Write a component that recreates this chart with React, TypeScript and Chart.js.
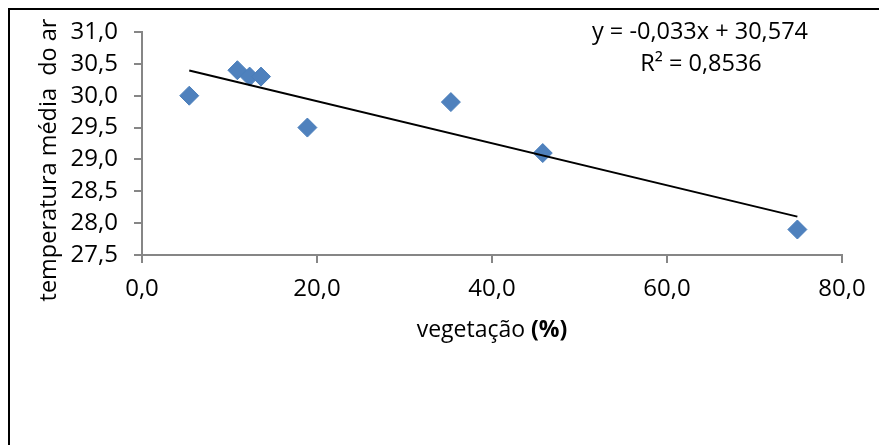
import React, { useEffect, useRef } from "react";
import { Chart, registerables } from "chart.js";

Chart.register(...registerables);

const vegetationPct = [5.4, 10.9, 12.3, 13.6, 18.9, 35.3, 45.8, 74.9];
const airTemp = [30.0, 30.4, 30.3, 30.3, 29.5, 29.9, 29.1, 27.9];
const trendSlope = -0.033;
const trendIntercept = 30.574;
const equationText = "y = -0,033x + 30,574";
const r2Text = "R² = 0,8536";
const yTitle = "temperatura média  do ar";
const xTitleMain = "vegetação ";
const xTitleBold = "(%)";

const FONT = "'Open Sans', 'Liberation Sans', sans-serif";
const fmt = (v: number) => v.toFixed(1).replace(".", ",");

export default function App() {
  const ref = useRef<HTMLCanvasElement | null>(null);

  useEffect(() => {
    if (!ref.current) return;
    const xMin = Math.min(...vegetationPct);
    const xMax = Math.max(...vegetationPct);
    const trend = [xMin, xMax].map((x) => ({ x, y: trendSlope * x + trendIntercept }));
    const points = vegetationPct.map((x, i) => ({ x, y: airTemp[i] }));

    const textPlugin = {
      id: "texts",
      afterDraw(chart: any) {
        const ctx = chart.ctx as CanvasRenderingContext2D;
        const area = chart.chartArea;
        ctx.save();
        ctx.fillStyle = "#000";
        // equation
        ctx.font = `23.5px ${FONT}`;
        ctx.textAlign = "center";
        ctx.textBaseline = "alphabetic";
        ctx.fillText(equationText, 690, 29);
        ctx.fillText(r2Text, 691, 61);
        // x title (mixed weight)
        ctx.font = `23px ${FONT}`;
        const w1 = ctx.measureText(xTitleMain).width;
        ctx.font = `bold 23px ${FONT}`;
        const w2 = ctx.measureText(xTitleBold).width;
        const cx = (area.left + area.right) / 2;
        const startX = cx - (w1 + w2) / 2;
        ctx.textAlign = "left";
        ctx.font = `23px ${FONT}`;
        ctx.fillText(xTitleMain, startX, 327);
        ctx.font = `bold 23px ${FONT}`;
        ctx.fillText(xTitleBold, startX + w1, 327);
        // y title
        ctx.translate(46, 150);
        ctx.rotate(-Math.PI / 2);
        ctx.font = `23.5px ${FONT}`;
        ctx.textAlign = "center";
        ctx.textBaseline = "alphabetic";
        ctx.fillText(yTitle, 0, 0);
        ctx.restore();
      },
    };

    const chart = new Chart(ref.current, {
      type: "scatter",
      data: {
        datasets: [
          {
            label: "pontos",
            data: points,
            pointStyle: "rectRot",
            pointRadius: 9.5,
            pointHoverRadius: 9.5,
            backgroundColor: "#4F81BD",
            borderColor: "#4A7EBB",
            borderWidth: 1,
            order: 1,
          },
          {
            type: "line",
            label: "tendência",
            data: trend,
            showLine: true,
            borderColor: "#000",
            borderWidth: 2,
            pointRadius: 0,
            fill: false,
            order: 0,
          } as any,
        ],
      },
      options: {
        animation: false,
        responsive: false,
        maintainAspectRatio: false,
        layout: { padding: { top: 22, right: 37, left: 0, bottom: 0 } },
        plugins: {
          legend: { display: false },
          tooltip: { enabled: false },
        },
        scales: {
          x: {
            type: "linear",
            min: 0,
            max: 80,
            ticks: {
              stepSize: 20,
              callback: (v: any) => fmt(Number(v)),
              color: "#000",
              font: { family: FONT, size: 24 },
              padding: 12,
              maxRotation: 0,
            },
            grid: {
              drawOnChartArea: false,
              drawTicks: true,
              tickLength: 8,
              color: "#868686",
              lineWidth: 2,
            },
            border: { display: true, color: "#868686", width: 2 },
            afterFit: (s: any) => {
              s.height = 190;
              s.paddingLeft = 0;
              s.paddingRight = 0;
            },
          },
          y: {
            type: "linear",
            min: 27.5,
            max: 31,
            ticks: {
              stepSize: 0.5,
              callback: (v: any) => fmt(Number(v)),
              color: "#000",
              font: { family: FONT, size: 24 },
              padding: 16,
            },
            grid: {
              drawOnChartArea: false,
              drawTicks: true,
              tickLength: 8,
              color: "#868686",
              lineWidth: 2,
            },
            border: { display: true, color: "#868686", width: 2 },
            afterFit: (s: any) => {
              s.width = 132;
              s.paddingTop = 0;
              s.paddingBottom = 0;
            },
          },
        },
      },
      plugins: [textPlugin],
    });
    return () => chart.destroy();
  }, []);

  return (
    <div
      style={{
        position: "fixed",
        left: 8,
        top: 8,
        width: 871,
        height: 437,
        borderTop: "2px solid #000",
        borderLeft: "2px solid #000",
        boxSizing: "border-box",
        background: "#fff",
        overflow: "hidden",
      }}
    >
      <canvas ref={ref} width={869} height={435} style={{ display: "block" }} />
    </div>
  );
}
